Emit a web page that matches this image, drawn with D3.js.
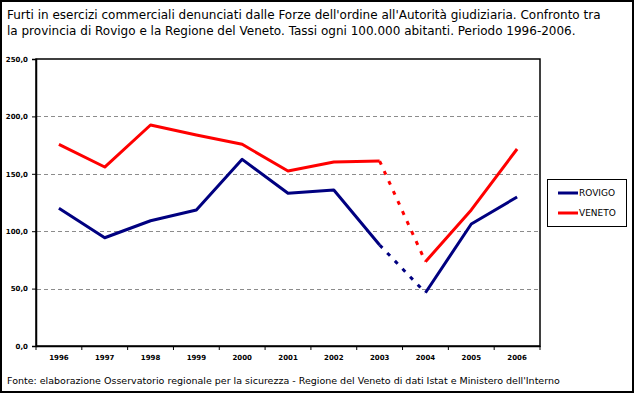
<!DOCTYPE html>
<html lang="it">
<head>
  <meta charset="UTF-8" />
  <title>Furti in esercizi commerciali - Rovigo e Veneto</title>
  <script src="https://d3js.org/d3.v7.min.js"></script>
  <style>
    body { margin: 0; background: #fff; }
    svg { display: block; }
  </style>
</head>
<body>
  <svg width="635" height="394"></svg>

  <script>
    // Data (rates per 100,000 inhabitants)
    const years = ["1996", "1997", "1998", "1999", "2000", "2001", "2002", "2003", "2004", "2005", "2006"];
    const rovigo = [119.9, 94.3, 109.1, 118.5, 162.6, 133.0, 135.9, 88.0, 46.4, 106.3, 129.8];
    const veneto = [175.7, 155.9, 192.5, 183.8, 175.7, 152.4, 160.3, 161.1, 73.4, 118.5, 171.6];
    const yTicks = [0, 50, 100, 150, 200, 250];
    // segment between these two years is drawn dashed
    const dashedFrom = "2003", dashedTo = "2004";

    const titleLines = [
      "Furti in esercizi commerciali denunciati dalle Forze dell'ordine all'Autorità giudiziaria. Confronto tra",
      "la provincia di Rovigo e la Regione del Veneto. Tassi ogni 100.000 abitanti. Periodo 1996-2006."
    ];
    const source = "Fonte: elaborazione Osservatorio regionale per la sicurezza - Regione del Veneto di dati Istat e Ministero dell'Interno";

    const series = [
      { name: "ROVIGO", values: rovigo, color: "#000080" },
      { name: "VENETO", values: veneto, color: "#ff0000" }
    ];

    const plot = { left: 36, top: 59, right: 540, bottom: 346 };
    const svg = d3.select("svg");

    // outer frame
    svg.append("rect")
      .attr("x", 1).attr("y", 1)
      .attr("width", 632).attr("height", 391)
      .attr("fill", "#fff")
      .attr("stroke", "#000")
      .attr("stroke-width", 2);

    // title
    svg.append("g")
      .selectAll("text")
      .data(titleLines)
      .enter().append("text")
      .attr("x", 7)
      .attr("y", (d, i) => 19 + i * 16)
      .attr("font-family", "'DejaVu Sans', sans-serif")
      .attr("font-size", 12)
      .text(d => d);

    const x = d3.scaleBand()
      .domain(years)
      .range([plot.left, plot.right]);

    const y = d3.scaleLinear()
      .domain([0, 250])
      .range([plot.bottom, plot.top]);

    // plot area box
    svg.append("rect")
      .attr("x", plot.left).attr("y", plot.top)
      .attr("width", plot.right - plot.left)
      .attr("height", plot.bottom - plot.top)
      .attr("fill", "#fff")
      .attr("stroke", "#000")
      .attr("stroke-width", 1.5);

    // gridlines
    svg.append("g")
      .selectAll("line")
      .data(yTicks.filter(v => v > 0 && v < 250))
      .enter().append("line")
      .attr("x1", plot.left + 1)
      .attr("x2", plot.right - 1)
      .attr("y1", d => Math.round(y(d)) + 0.5)
      .attr("y2", d => Math.round(y(d)) + 0.5)
      .attr("stroke", "#8c8c8c")
      .attr("stroke-dasharray", "4,3");

    // y axis
    const yAxis = svg.append("g")
      .attr("transform", `translate(${plot.left},0)`)
      .call(d3.axisLeft(y)
        .tickValues(yTicks)
        .tickSize(4)
        .tickFormat(d => d3.format(".1f")(d).replace(".", ",")));
    yAxis.select(".domain").attr("stroke-width", 1.5);
    yAxis.selectAll("text")
      .attr("font-family", "'DejaVu Sans', sans-serif")
      .attr("font-weight", "bold")
      .attr("font-size", 7)
      .attr("dx", "-1");

    // x axis, ticks on category boundaries
    const xAxis = svg.append("g")
      .attr("transform", `translate(0,${plot.bottom})`)
      .call(d3.axisBottom(x).tickSize(0).tickPadding(9));
    xAxis.select(".domain").attr("stroke-width", 1.5);
    xAxis.selectAll("text")
      .attr("font-family", "'DejaVu Sans', sans-serif")
      .attr("font-weight", "bold")
      .attr("font-size", 7);
    xAxis.selectAll(".boundary")
      .data(years.map(d => x(d)).concat([plot.right]))
      .enter().append("line")
      .attr("class", "boundary")
      .attr("x1", d => d).attr("x2", d => d)
      .attr("y1", 0).attr("y2", 4)
      .attr("stroke", "#000");

    // lines, split into solid and dashed segments
    const line = d3.line()
      .x(d => x(d.year) + x.bandwidth() / 2)
      .y(d => y(d.value));

    const iFrom = years.indexOf(dashedFrom), iTo = years.indexOf(dashedTo);

    series.forEach(s => {
      const pts = years.map((yr, i) => ({ year: yr, value: s.values[i] }));
      const g = svg.append("g");
      [pts.slice(0, iFrom + 1), pts.slice(iTo)].forEach(part => {
        g.append("path")
          .attr("d", line(part))
          .attr("fill", "none")
          .attr("stroke", s.color)
          .attr("stroke-width", 3)
          .attr("stroke-linejoin", "round");
      });
      g.append("path")
        .attr("d", line(pts.slice(iFrom, iTo + 1)))
        .attr("fill", "none")
        .attr("stroke", s.color)
        .attr("stroke-width", 3)
        .attr("stroke-dasharray", "4,7");
    });

    // legend
    const legend = svg.append("g");
    legend.append("rect")
      .attr("x", 547.5).attr("y", 179.5)
      .attr("width", 79).attr("height", 47)
      .attr("fill", "#fff")
      .attr("stroke", "#000");
    const items = legend.selectAll(".item")
      .data(series)
      .enter().append("g")
      .attr("class", "item")
      .attr("transform", (d, i) => `translate(558,${193 + i * 20})`);
    items.append("line")
      .attr("x1", 0).attr("x2", 20)
      .attr("stroke", d => d.color)
      .attr("stroke-width", 3);
    items.append("text")
      .attr("x", 21)
      .attr("dy", "0.35em")
      .attr("font-family", "'DejaVu Sans', sans-serif")
      .attr("font-size", 9)
      .text(d => d.name);

    // source note
    svg.append("text")
      .attr("x", 7)
      .attr("y", 384)
      .attr("font-family", "'DejaVu Sans', sans-serif")
      .attr("font-size", 9.5)
      .text(source);
  </script>
</body>
</html>
